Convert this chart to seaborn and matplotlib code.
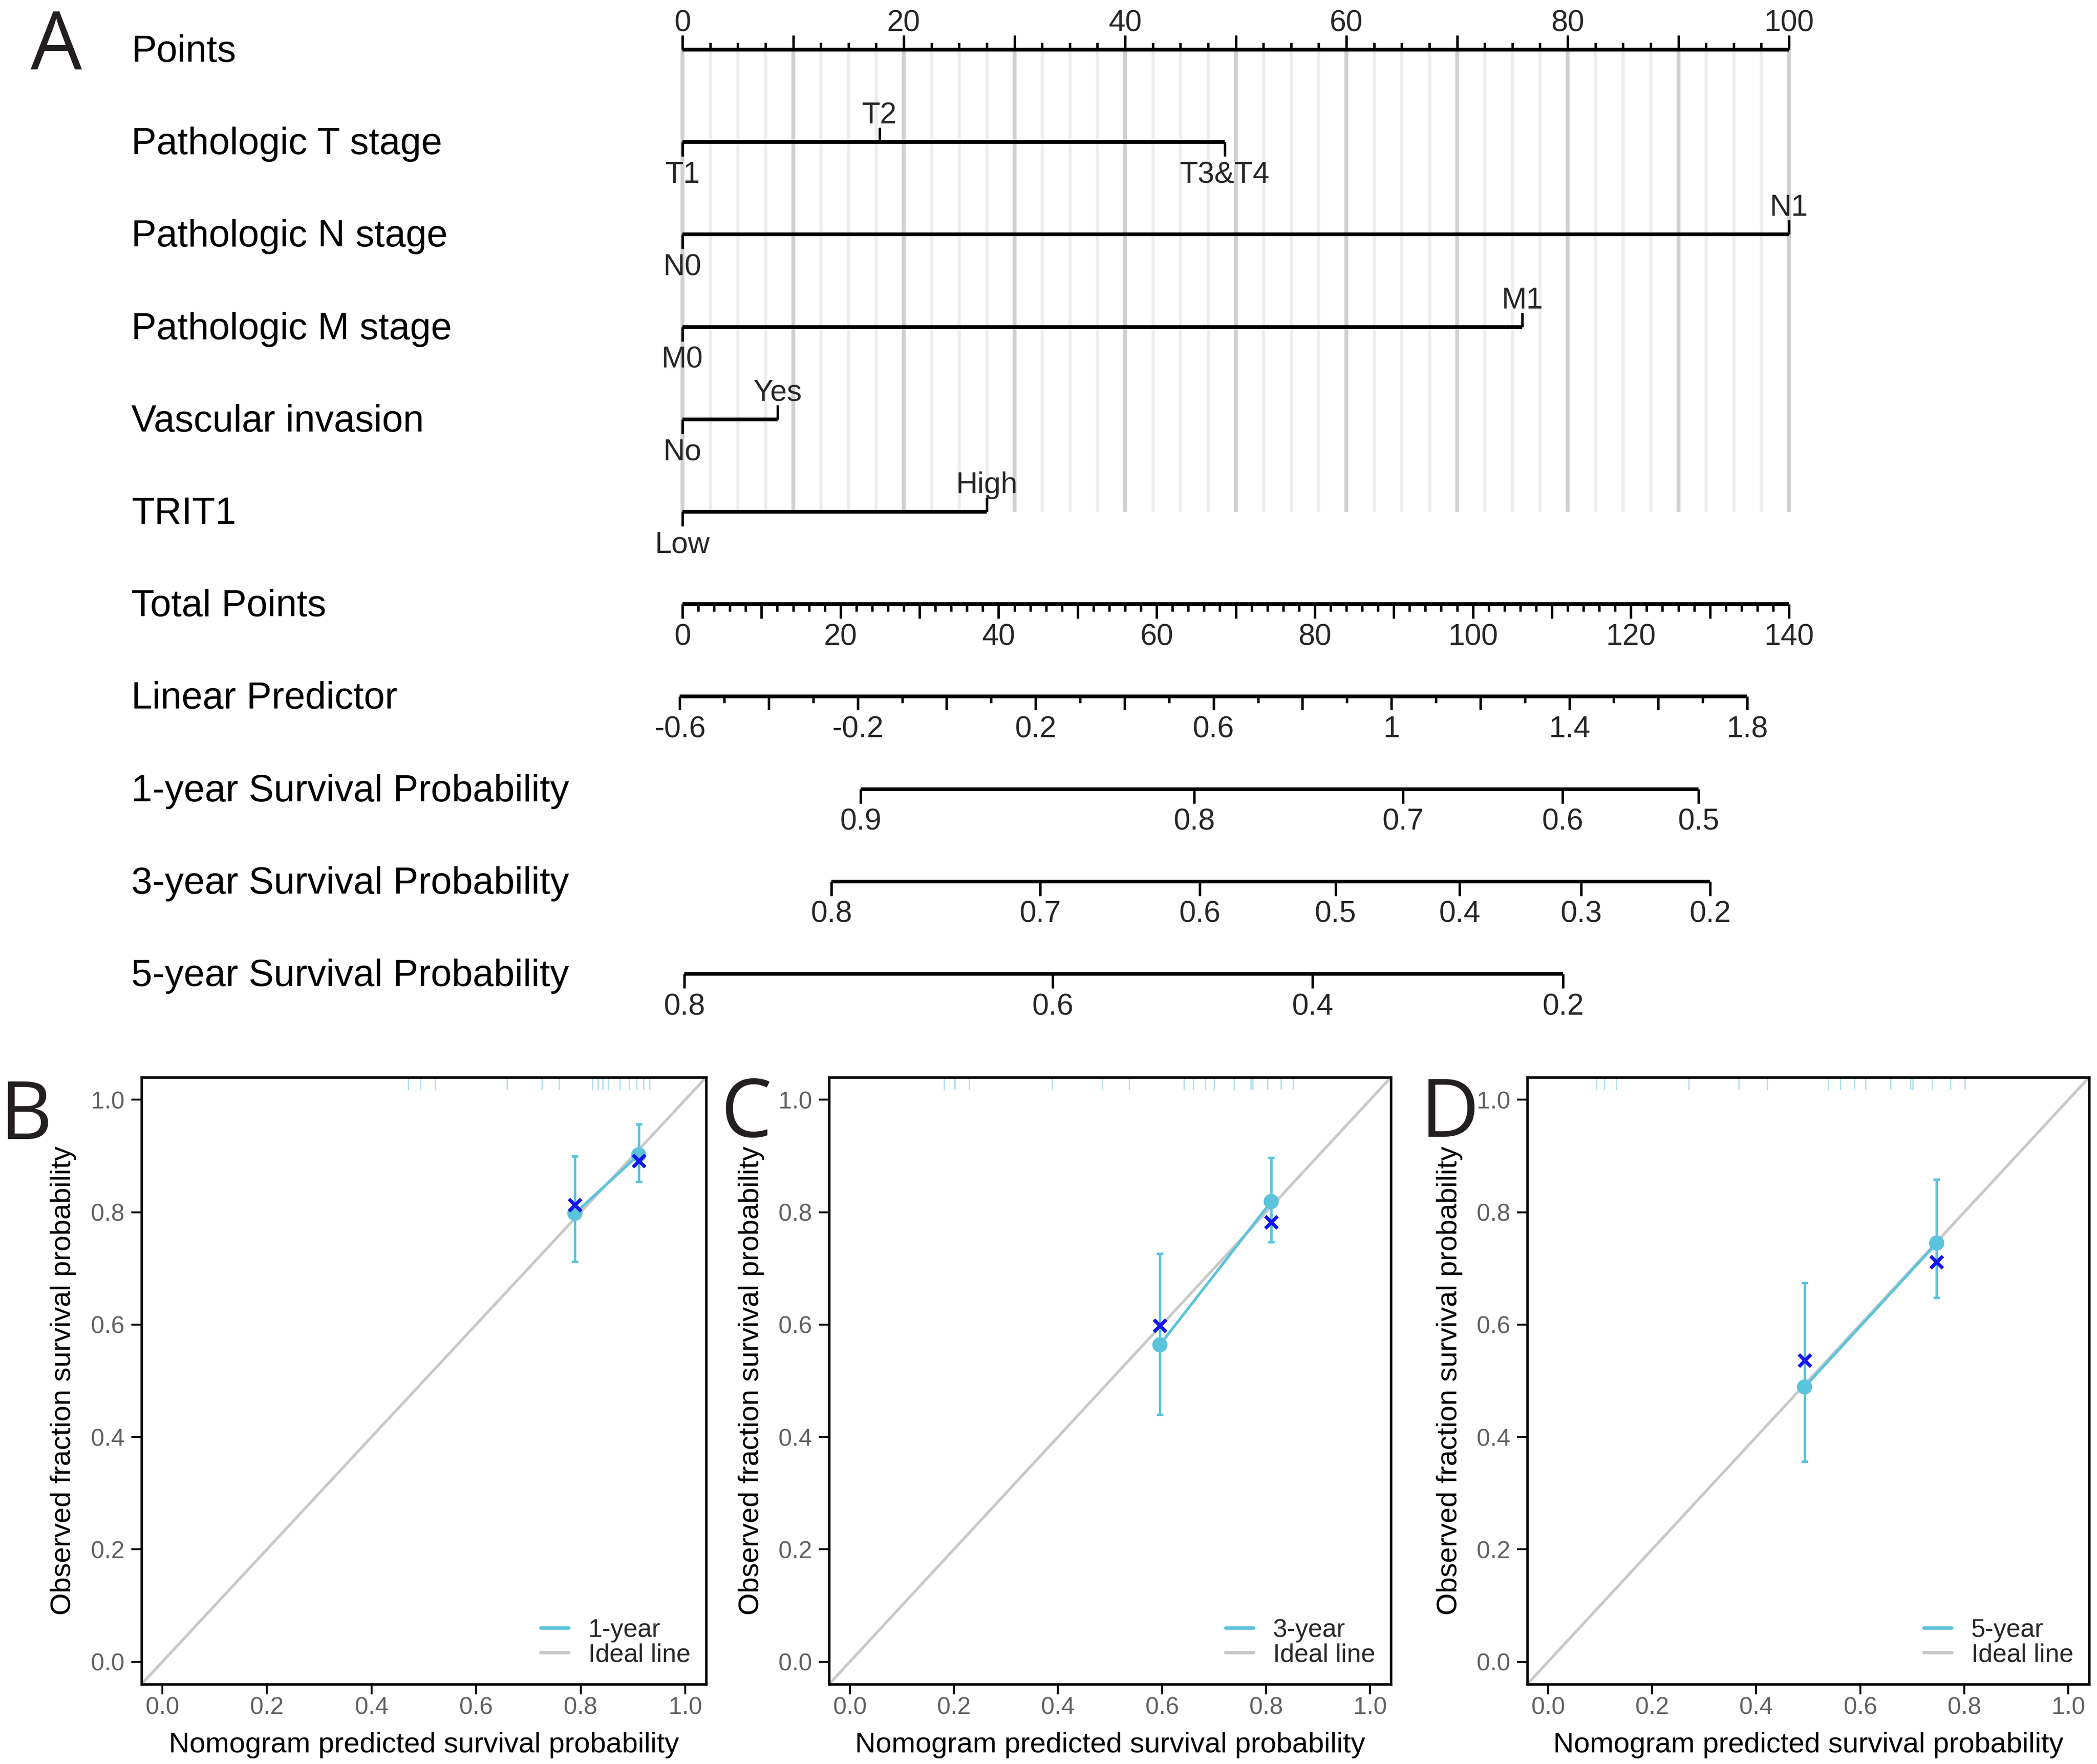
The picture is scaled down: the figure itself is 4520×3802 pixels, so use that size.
import numpy as np
import matplotlib
matplotlib.use("Agg")
import matplotlib.pyplot as plt
from matplotlib.lines import Line2D
from matplotlib.ticker import FormatStrFormatter
import seaborn as sns

# --------------------------------------
# Nomogram data
# --------------------------------------

row_names = [
    "Points",
    "Pathologic T stage",
    "Pathologic N stage",
    "Pathologic M stage",
    "Vascular invasion",
    "TRIT1",
    "Total Points",
    "Linear Predictor",
    "1-year Survival Probability",
    "3-year Survival Probability",
    "5-year Survival Probability",
]

point_major = np.arange(0, 101, 10)
point_minor = np.arange(0, 101, 2.5)
point_labels = np.arange(0, 101, 20)

t_levels = ["T1", "T2", "T3&T4"]
t_points = [0, 17.8, 49.0]
n_levels = ["N0", "N1"]
n_points = [0, 100]
m_levels = ["M0", "M1"]
m_points = [0, 75.9]
vi_levels = ["No", "Yes"]
vi_points = [0, 8.6]
trit1_levels = ["Low", "High"]
trit1_points = [0, 27.5]

total_major = np.arange(0, 141, 10)
total_minor = np.arange(0, 141, 2)
total_labels = np.arange(0, 141, 20)
max_total = 140

lp_ticks = np.round(np.arange(-0.6, 1.81, 0.1), 1)
lp_labels = [-0.6, -0.2, 0.2, 0.6, 1, 1.4, 1.8]
lp_at_zero = -0.594      # linear predictor at 0 total points
lp_per_point = 0.01777   # linear predictor per total point

surv1_ticks = [0.9, 0.8, 0.7, 0.6, 0.5]
surv3_ticks = [0.8, 0.7, 0.6, 0.5, 0.4, 0.3, 0.2]
surv5_ticks = [0.8, 0.6, 0.4, 0.2]
base_loglog = [-2.057, -1.241, -0.910]   # log(-log S0(t)) for 1, 3, 5 years

# --------------------------------------
# Calibration data
# --------------------------------------

years = ["1-year", "3-year", "5-year"]

pred_1 = [0.789, 0.911]
obs_1 = [0.798, 0.902]
corr_1 = [0.813, 0.891]
low_1 = [0.712, 0.854]
high_1 = [0.900, 0.957]
rug_1 = [0.470, 0.493, 0.522, 0.659, 0.726, 0.759, 0.823, 0.833,
         0.842, 0.853, 0.875, 0.893, 0.907, 0.920, 0.932]

pred_3 = [0.596, 0.810]
obs_3 = [0.564, 0.819]
corr_3 = [0.598, 0.782]
low_3 = [0.440, 0.747]
high_3 = [0.726, 0.897]
rug_3 = [0.181, 0.202, 0.229, 0.389, 0.485, 0.537, 0.642, 0.660,
         0.683, 0.700, 0.739, 0.771, 0.774, 0.803, 0.829, 0.852]

pred_5 = [0.493, 0.747]
obs_5 = [0.489, 0.745]
corr_5 = [0.536, 0.711]
low_5 = [0.356, 0.648]
high_5 = [0.674, 0.858]
rug_5 = [0.093, 0.108, 0.131, 0.270, 0.367, 0.421, 0.539, 0.562,
         0.589, 0.610, 0.658, 0.697, 0.701, 0.739, 0.773, 0.801]

# --------------------------------------
# Style
# --------------------------------------

sns.set_theme(style="ticks")
plt.rcParams["font.family"] = ["Liberation Sans", "DejaVu Sans"]

W, H, DPI = 4520, 3802, 300
fig = plt.figure(figsize=(W / DPI, H / DPI), dpi=DPI)

CYAN = "#5BC3DC"
BLUE = "#1414F0"
GREY = "#C8C8C8"
RUG = "#B4E0EC"

# ======================================
# Panel A : nomogram
# ======================================

x0_px = 1471      # pixel of 0 points
pt_px = 23.85     # pixels per point
row0_px = 107
row_px = 199.2
nom_bottom_px = 2250

axA = fig.add_axes([0, 1 - nom_bottom_px / H, 1, nom_bottom_px / H])
axA.set_xlim(-x0_px / pt_px, (W - x0_px) / pt_px)
axA.set_ylim((nom_bottom_px - row0_px) / row_px, -row0_px / row_px)
axA.axis("off")


def d(px):
    return px / row_px


LINE_W = 1.9
TICK_W = 1.3
TICK_FS = 15.5
ABOVE = d(40)
BELOW = d(88)

# vertical guide lines
for p in point_minor:
    axA.plot([p, p], [0, 5], color="#EDEDED", lw=1.6, zorder=0, solid_capstyle="butt")
for p in point_major:
    axA.plot([p, p], [0, 5], color="#D0D0D0", lw=2.0, zorder=0, solid_capstyle="butt")

# row labels
for i, name in enumerate(row_names):
    axA.text(283 / W, i + d(26), name, transform=axA.get_yaxis_transform(),
             ha="left", va="baseline", fontsize=19.5, color="black")

# Points axis
axA.plot([0, 100], [0, 0], color="black", lw=LINE_W, solid_capstyle="butt")
for p in point_minor:
    length = d(31) if p in point_major else d(15)
    axA.plot([p, p], [0, -length], color="black", lw=TICK_W, solid_capstyle="butt")
for p in point_labels:
    axA.text(p, -ABOVE, f"{p:g}", ha="center", va="baseline", fontsize=TICK_FS)

# categorical predictors
variables = [
    (t_levels, t_points),
    (n_levels, n_points),
    (m_levels, m_points),
    (vi_levels, vi_points),
    (trit1_levels, trit1_points),
]
for row, (levels, pts) in enumerate(variables, start=1):
    axA.plot([min(pts), max(pts)], [row, row], color="black", lw=LINE_W,
             solid_capstyle="butt")
    for k, (lev, p) in enumerate(zip(levels, pts)):
        if k % 2 == 0:
            axA.plot([p, p], [row, row + d(31)], color="black", lw=TICK_W,
                     solid_capstyle="butt")
            axA.text(p, row + BELOW, lev, ha="center", va="baseline", fontsize=TICK_FS)
        else:
            axA.plot([p, p], [row, row - d(31)], color="black", lw=TICK_W,
                     solid_capstyle="butt")
            axA.text(p, row - ABOVE, lev, ha="center", va="baseline", fontsize=TICK_FS)


def tp_to_x(tp):
    return np.asarray(tp, dtype=float) * 100 / max_total


def lp_to_x(lp):
    return tp_to_x((np.asarray(lp, dtype=float) - lp_at_zero) / lp_per_point)


def surv_to_x(s, base):
    return lp_to_x(np.log(-np.log(np.asarray(s, dtype=float))) - base)


# Total points
row = 6
axA.plot(tp_to_x([0, max_total]), [row, row], color="black", lw=LINE_W,
         solid_capstyle="butt")
for tp in total_minor:
    length = d(31) if tp in total_major else d(16)
    x = tp_to_x(tp)
    axA.plot([x, x], [row, row + length], color="black", lw=TICK_W, solid_capstyle="butt")
for tp in total_labels:
    axA.text(tp_to_x(tp), row + BELOW, f"{tp:g}", ha="center", va="baseline",
             fontsize=TICK_FS)

# Linear predictor
row = 7
lp_x = lp_to_x(lp_ticks)
axA.plot([lp_x.min(), lp_x.max()], [row, row], color="black", lw=LINE_W,
         solid_capstyle="butt")
for k, x in enumerate(lp_x):
    length = d(29) if k % 2 == 0 else d(14)
    axA.plot([x, x], [row, row + length], color="black", lw=TICK_W, solid_capstyle="butt")
for lp in lp_labels:
    axA.text(lp_to_x(lp), row + BELOW, f"{lp:g}", ha="center", va="baseline",
             fontsize=TICK_FS)

# Survival probabilities
for row, ticks, base in zip([8, 9, 10], [surv1_ticks, surv3_ticks, surv5_ticks],
                            base_loglog):
    xs = surv_to_x(ticks, base)
    axA.plot([xs.min(), xs.max()], [row, row], color="black", lw=LINE_W,
             solid_capstyle="butt")
    for s, x in zip(ticks, xs):
        axA.plot([x, x], [row, row + d(31)], color="black", lw=TICK_W,
                 solid_capstyle="butt")
        axA.text(x, row + BELOW, f"{s:g}", ha="center", va="baseline", fontsize=TICK_FS)

# ======================================
# Panels B, C, D : calibration curves
# ======================================

cal_top, cal_bottom = 2322, 3630
panels = [
    (305, 1217, pred_1, obs_1, corr_1, low_1, high_1, rug_1),
    (1787, 1211, pred_3, obs_3, corr_3, low_3, high_3, rug_3),
    (3292, 1211, pred_5, obs_5, corr_5, low_5, high_5, rug_5),
]

for (left, width, pred, obs, corr, low, high, rug), year in zip(panels, years):
    ax = fig.add_axes([left / W, 1 - cal_bottom / H, width / W,
                       (cal_bottom - cal_top) / H])
    ax.set_xlim(-0.04, 1.04)
    ax.set_ylim(-0.04, 1.04)

    ax.axline((0, 0), slope=1, color=GREY, lw=1.4, zorder=1)

    sns.lineplot(x=pred, y=obs, ax=ax, color=CYAN, lw=1.4, sort=False,
                 estimator=None, zorder=2)
    yerr = [np.subtract(obs, low), np.subtract(high, obs)]
    ax.errorbar(pred, obs, yerr=yerr, fmt="none", ecolor=CYAN, elinewidth=1.3,
                capsize=1.6, capthick=1.3, zorder=2)
    sns.scatterplot(x=pred, y=obs, ax=ax, color=CYAN, s=62, edgecolor="none",
                    zorder=3)
    sns.scatterplot(x=pred, y=corr, ax=ax, color=BLUE, marker="x", s=40,
                    linewidth=1.8, zorder=4)

    ax.vlines(rug, 1 - 0.021, 1, transform=ax.get_xaxis_transform(),
              color=RUG, lw=0.7)

    ticks = np.arange(0, 1.01, 0.2)
    ax.set_xticks(ticks)
    ax.set_yticks(ticks)
    ax.xaxis.set_major_formatter(FormatStrFormatter("%.1f"))
    ax.yaxis.set_major_formatter(FormatStrFormatter("%.1f"))
    ax.tick_params(axis="both", which="major", length=5.3, width=1.0,
                   color="black", labelsize=12.5, labelcolor="#606060")
    ax.tick_params(axis="x", pad=1.0)
    ax.tick_params(axis="y", pad=3.5)

    for side in ["left", "right", "top", "bottom"]:
        ax.spines[side].set_visible(True)
        ax.spines[side].set_color("black")
        ax.spines[side].set_linewidth(1.3)

    ax.set_xlabel("Nomogram predicted survival probability", fontsize=14.8,
                  color="black")
    ax.set_ylabel("Observed fraction survival probability", fontsize=14.8,
                  color="black")
    ax.xaxis.set_label_coords(0.5, -0.079)
    ax.yaxis.set_label_coords(-0.115, 0.5)

    handles = [Line2D([], [], color=CYAN, lw=1.8),
               Line2D([], [], color=GREY, lw=1.8)]
    ax.legend(handles, [year, "Ideal line"], loc="lower right",
              bbox_to_anchor=(0.972, 0.028), frameon=False, fontsize=13.2,
              handlelength=1.1, handletextpad=0.75, labelspacing=0.02,
              borderpad=0, borderaxespad=0)

# --------------------------------------
# Panel letters
# --------------------------------------

letters = ["A", "B", "C", "D"]
letter_px = [(66, 150), (0, 2455), (1553, 2450), (3062, 2450)]
for letter, (lx, ly) in zip(letters, letter_px):
    fig.text(lx / W, 1 - ly / H, letter, ha="left", va="baseline",
             fontsize=42, color="#231F20", family=["Open Sans", "DejaVu Sans"])

fig.savefig("out.png", dpi=DPI)
